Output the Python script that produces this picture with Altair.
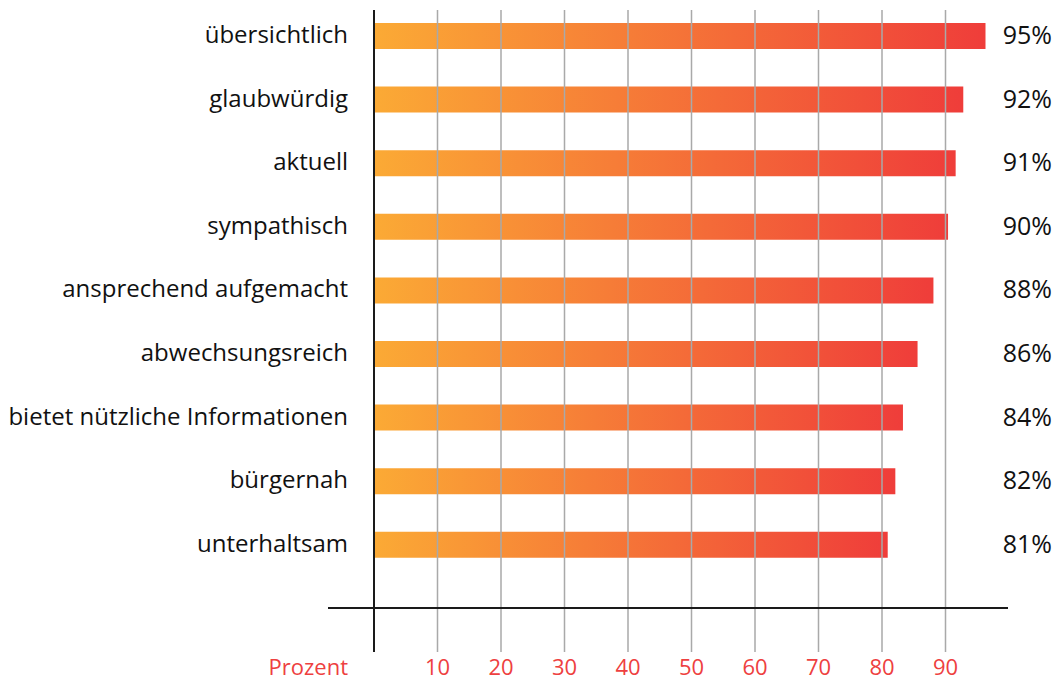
import altair as alt
import pandas as pd

categories = [
    "übersichtlich",
    "glaubwürdig",
    "aktuell",
    "sympathisch",
    "ansprechend aufgemacht",
    "abwechsungsreich",
    "bietet nützliche Informationen",
    "bürgernah",
    "unterhaltsam",
]
bar_values = [96.3, 92.8, 91.6, 90.4, 88.1, 85.6, 83.3, 82.1, 80.9]
value_labels = ["95%", "92%", "91%", "90%", "88%", "86%", "84%", "82%", "81%"]
tick_values = [10, 20, 30, 40, 50, 60, 70, 80, 90]
axis_title = "Prozent"

FONT = "Open Sans"
W, H = 635, 642
STEP = 63.6          # pixels between bar centres
FIRST = 26.0         # first bar centre below the top of the plot

df = pd.DataFrame({
    "cat": categories,
    "value": bar_values,
    "label": value_labels,
    "idx": list(range(len(categories))),
})
ticks = pd.DataFrame({"t": tick_values, "lab": [str(t) for t in tick_values]})

d0 = -FIRST / STEP
d1 = d0 + H / STEP
xs = alt.Scale(domain=[0, 100], nice=False, padding=0)
ys = alt.Scale(domain=[d0, d1], reverse=True, nice=False, zero=False, padding=0)

base = alt.Chart(df)

bars = base.mark_bar(
    height=26,
    color=alt.Gradient(
        gradient="linear",
        stops=[alt.GradientStop(color="#FBAA35", offset=0),
               alt.GradientStop(color="#EF3D3A", offset=1)],
        x1=0, x2=1, y1=0, y2=0,
    ),
).encode(
    x=alt.X("value:Q", scale=xs, axis=None),
    x2=alt.datum(0),
    y=alt.Y("idx:Q", scale=ys, axis=None),
)

grid = alt.Chart(ticks).mark_rule(color="#A9A9A9", strokeWidth=1.5).encode(
    x=alt.X("t:Q", scale=xs),
    y=alt.value(0),
    y2=alt.value(H),
)

vaxis = alt.Chart(ticks).mark_rule(color="#1a1a1a", strokeWidth=2).encode(
    x=alt.value(0), y=alt.value(0), y2=alt.value(H)
)

haxis = alt.Chart(ticks).mark_rule(color="#1a1a1a", strokeWidth=2).encode(
    x=alt.value(-46), x2=alt.value(W - 1), y=alt.value(598)
)

cat_text = base.mark_text(align="right", baseline="middle", font=FONT, fontSize=24, color="#111111").encode(
    x=alt.value(-26),
    y=alt.Y("idx:Q", scale=ys),
    text="cat:N",
)

val_text = base.mark_text(align="right", baseline="middle", font=FONT, fontSize=25, color="#111111").encode(
    x=alt.value(678),
    y=alt.Y("idx:Q", scale=ys),
    text="label:N",
)

tick_text = alt.Chart(ticks).mark_text(align="center", baseline="bottom", font=FONT, fontSize=22, color="#EE4040").encode(
    x=alt.X("t:Q", scale=xs),
    y=alt.value(670),
    text="lab:N",
)

title_text = alt.Chart(pd.DataFrame({"s": [axis_title]})).mark_text(
    align="right", baseline="bottom", font=FONT, fontSize=22, color="#EE4040"
).encode(x=alt.value(-26), y=alt.value(670), text="s:N")

chart = alt.layer(bars, grid, vaxis, haxis, cat_text, val_text, tick_text, title_text).properties(
    width=W, height=H,
    autosize=alt.AutoSizeParams(type="none"),
    padding={"left": 366, "top": 2, "right": 44, "bottom": 28},
    background="white",
).configure_view(strokeWidth=0, stroke="transparent")

chart.save("out.html", embed_options={"renderer": "svg", "actions": False})
